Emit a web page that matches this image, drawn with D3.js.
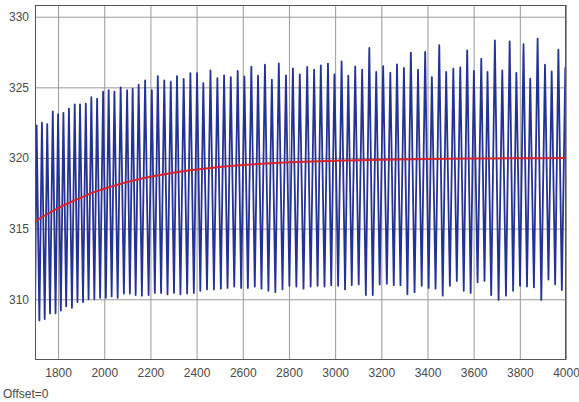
<!DOCTYPE html>
<html><head><meta charset="utf-8">
<script src="https://cdn.jsdelivr.net/npm/d3@7"></script>
<style>
html,body{margin:0;padding:0;background:#fff;}
svg{display:block;}
text{font-family:"Liberation Sans",Arial,sans-serif;}
</style></head>
<body>
<svg id="chart" width="579" height="402"></svg>
<script>
// ---- data ----
const xDomain = [1700, 4000];
const yDomain = [305.7, 330.83];
const xTicks = [1800, 2000, 2200, 2400, 2600, 2800, 3000, 3200, 3400, 3600, 3800, 4000];
const yTicks = [310, 315, 320, 325, 330];

const peakTime = [1707,1730,1753,1777,1800,1823,1847,1872,1895,1920,1944,1969,1995,2019,2044,2071,
  2099,2123,2149,2177,2206,2232,2260,2288,2315,2344,2373,2402,2429,2460,
  2490,2519,2548,2578,2607,2637,2666,2696,2726,2756,2787,2817,2847,
  2879,2909,2938,2969,2997,3028,3057,3087,3117,3148,3178,3208,3239,
  3268,3298,3328,3359,3390,3419,3451,3481,3512,3542,3572,3601,3633,
  3660,3692,3724,3756,3785,3816,3845,3877,3909,3938,3967,3997];
const peakValue = [322.3,322.5,322.4,323.3,323.1,323.2,323.5,323.8,323.8,323.85,324.3,324.2,324.7,324.8,324.7,325.0,
  324.8,324.9,325.2,325.5,324.8,325.8,325.5,325.4,325.8,325.6,326.0,326.0,325.3,326.2,
  325.66,325.85,325.73,326.16,325.78,326.47,325.83,326.6,325.54,326.7,325.85,326.35,325.92,
  326.44,326.25,326.56,326.68,325.92,326.84,325.83,326.49,326.25,327.79,326.09,326.51,326.04,
  326.63,326.37,327.46,326.25,327.51,325.73,327.98,326.09,326.32,326.42,327.62,326.16,327.03,
  326.09,328.33,326.2,328.26,326.02,328.05,325.61,328.45,326.6,326.13,327.67,326.37];

const troughTime = [1700,1719,1742,1765,1789,1812,1835,1860,1884,1908,1932,1957,1982,2007,2032,2058,
  2085,2111,2136,2163,2192,2219,2246,2274,2302,2330,2359,2388,2416,2445,
  2475,2505,2534,2563,2593,2622,2652,2681,2711,2741,2772,2802,2832,2863,
  2894,2924,2954,2983,3013,3043,3072,3102,3133,3163,3193,3224,3254,
  3283,3313,3344,3375,3405,3435,3466,3497,3527,3557,3587,3617,
  3647,3676,3708,3740,3771,3801,3831,3861,3893,3924,3953,3982,4012];
const troughValue = [308.3,308.5,308.6,309.0,309.0,309.2,309.5,309.4,309.8,309.8,310.0,310.0,310.1,310.1,310.2,310.1,
  310.4,310.4,310.3,310.25,310.3,310.45,310.45,310.35,310.45,310.35,310.4,310.45,310.6,310.7,
  310.7,310.75,310.8,310.9,310.8,310.8,310.9,310.75,310.6,310.5,310.7,310.95,310.9,310.75,
  310.9,310.95,310.9,311.0,310.95,310.7,311.0,311.05,310.3,310.3,311.05,311.1,311.0,
  311.0,310.35,310.5,310.95,310.8,310.75,310.25,310.95,311.3,310.6,310.45,311.2,
  311.3,310.3,309.95,310.25,310.6,310.95,310.9,310.85,309.95,311.4,311.05,310.65,310.8];

const trendTime  = [1700,1750,1800,1850,1900,1950,2000,2100,2200,2300,2400,2500,2600,2700,2800,2900,3000,3200,3400,3600,3800,4000];
const trendValue = [315.5,316.0,316.45,316.85,317.2,317.55,317.82,318.3,318.67,318.96,319.18,319.36,319.5,319.61,319.7,319.76,319.81,319.88,319.93,319.96,319.98,320.0];

// ---- layout ----
const svg = d3.select("#chart");
const L = 35, T = 5, R = 566, B = 360;
const x = d3.scaleLinear().domain(xDomain).range([L, R]);
const y = d3.scaleLinear().domain(yDomain).range([B, T]);

svg.append("defs").append("clipPath").attr("id","clip")
  .append("rect").attr("x",L).attr("y",T).attr("width",R-L).attr("height",B-T);

// grid
const gx = svg.append("g").attr("transform",`translate(0,${B})`)
  .call(d3.axisBottom(x).tickValues(xTicks).tickSize(-(B-T)).tickFormat(d3.format("d")).tickPadding(8));
const gy = svg.append("g").attr("transform",`translate(${L},0)`)
  .call(d3.axisLeft(y).tickValues(yTicks).tickSize(-(R-L)).tickPadding(6));
[gx, gy].forEach(g => {
  g.select(".domain").remove();
  g.selectAll(".tick line").attr("stroke","#9a9a9a").attr("stroke-width",1);
  g.selectAll(".tick text").attr("fill","#4a4a4a").style("font-size","12px")
   .style("font-family","'Liberation Sans', Arial, sans-serif");
});

// signal
const pts = peakTime.map((t,i)=>({t, v:peakValue[i]}))
  .concat(troughTime.map((t,i)=>({t, v:troughValue[i]})))
  .sort((a,b)=>a.t-b.t);
const plot = svg.append("g").attr("clip-path","url(#clip)");
plot.append("path").datum(pts)
  .attr("d", d3.line().x(d=>x(d.t)).y(d=>y(d.v)))
  .attr("fill","none").attr("stroke","#243294").attr("stroke-width",1.8)
  .attr("stroke-linejoin","round");

const trend = trendTime.map((t,i)=>({t, v:trendValue[i]}));
plot.append("path").datum(trend)
  .attr("d", d3.line().curve(d3.curveMonotoneX).x(d=>x(d.t)).y(d=>y(d.v)))
  .attr("fill","none").attr("stroke","#d8222c").attr("stroke-width",2);

// frame
svg.append("rect").attr("x",L+0.5).attr("y",T+0.5).attr("width",R-L-1).attr("height",B-T-1)
  .attr("fill","none").attr("stroke","#555").attr("stroke-width",1);

svg.append("text").attr("x",3).attr("y",398).attr("fill","#4a4a4a")
  .style("font-size","12px").text("Offset=0");
</script>
</body></html>
